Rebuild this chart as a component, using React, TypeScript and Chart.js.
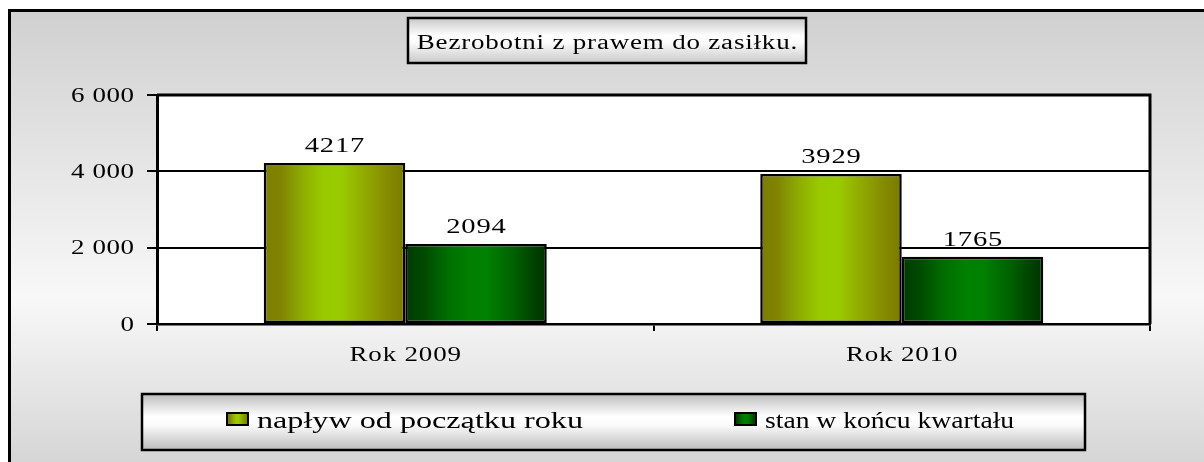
import React, { useEffect, useRef } from 'react';
import { Chart, registerables } from 'chart.js';

Chart.register(...registerables);

const categories = ['Rok 2009', 'Rok 2010'];
const seriesNames = ['napływ od początku roku', 'stan w końcu kwartału'];
const inflowValues = [4217, 3929];
const endOfQuarterValues = [2094, 1765];
const yTickValues = [0, 2000, 4000, 6000];
const yTickLabels = ['0', '2 000', '4 000', '6 000'];
const titleText = 'Bezrobotni z prawem do zasiłku.';

const SERIF = '"Liberation Serif", "Times New Roman", serif';

// horizontal "cylinder" shading for each series
const barStops: [number, string][][] = [
  [
    [0, '#7d7d00'],
    [0.12, '#808400'],
    [0.28, '#8fae00'],
    [0.42, '#99c900'],
    [0.55, '#9acb00'],
    [0.72, '#90a800'],
    [0.88, '#848a00'],
    [1, '#7a7a00'],
  ],
  [
    [0, '#003c00'],
    [0.12, '#004800'],
    [0.3, '#006e00'],
    [0.45, '#008000'],
    [0.58, '#008000'],
    [0.75, '#006400'],
    [0.9, '#004400'],
    [1, '#003300'],
  ],
];

function hGrad(ctx: CanvasRenderingContext2D, x0: number, x1: number, stops: [number, string][]) {
  const g = ctx.createLinearGradient(x0, 0, x1, 0);
  stops.forEach(([p, c]) => g.addColorStop(p, c));
  return g;
}

function boxGrad(ctx: CanvasRenderingContext2D, y0: number, y1: number, edge: string) {
  const g = ctx.createLinearGradient(0, y0, 0, y1);
  g.addColorStop(0, edge);
  g.addColorStop(0.4, '#ffffff');
  g.addColorStop(0.55, '#fbfbfb');
  g.addColorStop(1, edge);
  return g;
}

// wide (horizontally stretched) serif text, like the original rendering
function drawText(
  ctx: CanvasRenderingContext2D,
  text: string,
  x: number,
  y: number,
  align: CanvasTextAlign,
  size: number,
  sx: number,
  spacing = 0
) {
  ctx.save();
  ctx.translate(x, y);
  ctx.scale(sx, 1);
  ctx.font = `${size}px ${SERIF}`;
  (ctx as any).letterSpacing = `${spacing}px`;
  ctx.textAlign = align;
  ctx.textBaseline = 'alphabetic';
  ctx.fillStyle = '#000';
  const dx = align === 'center' ? spacing / 2 : align === 'right' ? spacing : 0;
  ctx.fillText(text, dx, 0);
  ctx.restore();
}

const decorPlugin = {
  id: 'decor',
  beforeDraw(chart: any) {
    const { ctx, width, height, chartArea: a } = chart;
    ctx.save();
    ctx.fillStyle = '#ffffff';
    ctx.fillRect(0, 0, width, height);
    const g = ctx.createLinearGradient(0, 10, 0, 490);
    g.addColorStop(0, '#d0d0d0');
    g.addColorStop(0.6, '#f8f8f8');
    g.addColorStop(1, '#d0d0d0');
    ctx.fillStyle = g;
    ctx.fillRect(8, 9, width, height);
    ctx.strokeStyle = '#000';
    ctx.lineWidth = 3;
    ctx.beginPath();
    ctx.moveTo(9.5, height + 5);
    ctx.lineTo(9.5, 10.5);
    ctx.lineTo(width + 5, 10.5);
    ctx.stroke();
    ctx.fillStyle = '#ffffff';
    ctx.fillRect(a.left, a.top, a.right - a.left, a.bottom - a.top);
    ctx.restore();
  },
  beforeDatasetsDraw(chart: any) {
    const { ctx } = chart;
    chart.data.datasets.forEach((_ds: any, di: number) => {
      const meta = chart.getDatasetMeta(di);
      meta.data.forEach((el: any) => {
        const { x, width } = el.getProps(['x', 'width'], true);
        const g = hGrad(ctx, x - width / 2, x + width / 2, barStops[di]);
        el.options = { ...el.options, backgroundColor: g };
      });
    });
  },
  afterDatasetsDraw(chart: any) {
    const { ctx } = chart;
    chart.data.datasets.forEach((ds: any, di: number) => {
      const meta = chart.getDatasetMeta(di);
      meta.data.forEach((el: any, i: number) => {
        drawText(ctx, String(ds.data[i]), el.x, el.y - 11, 'center', 22, 1.3, 0.6);
      });
    });
  },
  afterDraw(chart: any) {
    const { ctx, chartArea: a } = chart;
    ctx.save();
    // plot area top/right border
    ctx.strokeStyle = '#000';
    ctx.lineWidth = 3;
    ctx.beginPath();
    ctx.moveTo(a.left, a.top);
    ctx.lineTo(a.right, a.top);
    ctx.lineTo(a.right, a.bottom);
    ctx.stroke();
    ctx.restore();

    // axis tick labels, placed by the chart's scales
    const ys = chart.scales.y;
    ys.ticks.forEach((t: any, i: number) => {
      const py = ys.getPixelForTick(i);
      const idx = yTickValues.indexOf(Number(t.value));
      const lbl = idx >= 0 ? yTickLabels[idx] : String(t.value);
      drawText(ctx, lbl, ys.right - 23, py + 6.5, 'right', 20, 1.35, 0.4);
    });
    const xs = chart.scales.x;
    chart.data.labels.forEach((lbl: string, i: number) => {
      const px = xs.getPixelForValue(i);
      drawText(ctx, lbl, px, xs.top + 37, 'center', 20, 1.35, 0.6);
    });

    ctx.save();
    // title box
    const tx0 = 408, ty0 = 18, tx1 = 806, ty1 = 63;
    ctx.fillStyle = boxGrad(ctx, ty0, ty1, '#c8c8c8');
    ctx.fillRect(tx0, ty0, tx1 - tx0, ty1 - ty0);
    ctx.strokeStyle = '#000';
    ctx.lineWidth = 2.5;
    ctx.strokeRect(tx0, ty0, tx1 - tx0, ty1 - ty0);
    drawText(ctx, titleText, (tx0 + tx1) / 2, 49, 'center', 20, 1.35, 0.6);

    // legend box
    const lx0 = 142, ly0 = 394, lx1 = 1085, ly1 = 450;
    ctx.fillStyle = boxGrad(ctx, ly0, ly1, '#bdbdbd');
    ctx.fillRect(lx0, ly0, lx1 - lx0, ly1 - ly0);
    ctx.lineWidth = 2.5;
    ctx.strokeRect(lx0, ly0, lx1 - lx0, ly1 - ly0);
    const itemX = [227, 735];
    const itemStretch = [1.34, 1.15];
    chart.data.datasets.forEach((ds: any, di: number) => {
      const sx = itemX[di];
      const sy = 413, sw = 21, sh = 12;
      ctx.fillStyle = hGrad(ctx, sx, sx + sw, barStops[di]);
      ctx.fillRect(sx, sy, sw, sh);
      ctx.lineWidth = 2;
      ctx.strokeStyle = '#000';
      ctx.strokeRect(sx, sy, sw, sh);
      drawText(ctx, ds.label, sx + 30, 428, 'left', 24, itemStretch[di], 0);
    });
    ctx.restore();
  },
};

export default function App() {
  const ref = useRef<HTMLCanvasElement | null>(null);
  useEffect(() => {
    if (!ref.current) return;
    const chart = new Chart(ref.current, {
      type: 'bar',
      data: {
        labels: categories,
        datasets: [
          {
            label: seriesNames[0],
            data: inflowValues,
            backgroundColor: '#99cc00',
            borderColor: '#000',
            borderWidth: 2.5,
            borderSkipped: false,
            categoryPercentage: 0.57,
            barPercentage: 1,
          },
          {
            label: seriesNames[1],
            data: endOfQuarterValues,
            backgroundColor: '#008000',
            borderColor: '#000',
            borderWidth: 2.5,
            borderSkipped: false,
            categoryPercentage: 0.57,
            barPercentage: 1,
          },
        ],
      },
      options: {
        animation: false,
        responsive: false,
        events: [],
        layout: { padding: { left: 0, top: 95, right: 54, bottom: 0 } },
        plugins: {
          legend: { display: false },
          title: { display: false },
          tooltip: { enabled: false },
        },
        scales: {
          x: {
            offset: true,
            grid: {
              offset: true,
              drawOnChartArea: false,
              drawTicks: true,
              tickLength: 7,
              color: '#000',
              lineWidth: 2,
            },
            border: { display: true, color: '#000', width: 2.5 },
            ticks: { display: false },
            afterFit: (scale: any) => {
              scale.height = 138;
            },
          },
          y: {
            min: 0,
            max: 6000,
            afterBuildTicks: (scale: any) => {
              scale.ticks = yTickValues.map((v) => ({ value: v }));
            },
            grid: {
              color: '#000',
              lineWidth: 2,
              tickLength: 10,
              drawTicks: true,
            },
            border: { display: true, color: '#000', width: 3 },
            ticks: { display: false },
            afterFit: (scale: any) => {
              scale.width = 157;
            },
          },
        },
      },
      plugins: [decorPlugin],
    });
    return () => chart.destroy();
  }, []);
  return (
    <div style={{ position: 'fixed', left: 0, top: 0, width: 1204, height: 462 }}>
      <canvas ref={ref} width={1204} height={462} style={{ display: 'block' }} />
    </div>
  );
}
